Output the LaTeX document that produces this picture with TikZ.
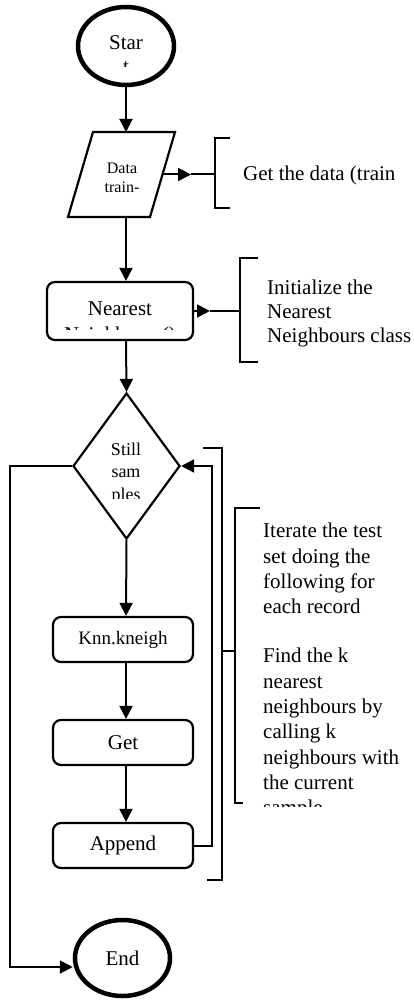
\documentclass[tikz,border=0pt]{standalone}
\usepackage{fontspec}
\setmainfont{Liberation Serif}
\usetikzlibrary{shapes.geometric,arrows.meta}
\begin{document}
\begin{tikzpicture}[x=1pt,y=-1pt,
  conn/.style={line width=2pt},
  arr/.style={line width=2pt,-{Triangle[length=13pt,width=13pt]}},
  term/.style={ellipse,draw,line width=4.5pt,inner sep=0pt},
  procbox/.style={draw,rounded corners=8pt,line width=2.2pt,inner sep=0pt},
  fbig/.style={font=\fontsize{21}{24}\selectfont},
  fmid/.style={font=\fontsize{19}{22}\selectfont},
  fdec/.style={font=\fontsize{18}{22}\selectfont},
  fsmall/.style={font=\fontsize{16}{19}\selectfont},
  txt/.style={inner sep=0pt,anchor=base}
]
\useasboundingbox (0,0) rectangle (414,1000);
\coordinate (axis) at (126,0);

% Start
\node[term, minimum width=96pt, minimum height=78pt] (start) at (126,46) {};
\begin{scope}
  \clip (82,20) rectangle (170,67);
  \node[fbig, txt] (startA) at (126,50) {Star};
  \node[fbig, txt] (startB) at (126,74) {t};
\end{scope}

% Data (parallelogram drawn around a named node)
\node[minimum width=82pt, minimum height=85pt, inner sep=0pt, outer sep=0pt] (data) at (121.5,174.5) {};
\draw[line width=2.2pt, line join=miter]
  ([xshift=12.5pt]data.north west) -- ([xshift=12.5pt]data.north east)
  -- ([xshift=-12.5pt]data.south east) -- ([xshift=-12.5pt]data.south west) -- cycle;
\node[fsmall, txt] (dataA) at (122,173.5) {Data};
\node[fsmall, txt] (dataB) at (122,192.5) {train-};
\draw[arr] (start.south) -- (axis |- data.north);

\coordinate (a1) at (191,174.5);
\coordinate (b1) at (215,174.5);
\draw[arr] (data.east) -- (a1);
\draw[conn] (a1) -- (b1);
\draw[conn] (230,138) -- (215,138) -- (215,208) -- (230,208);
\node[fbig, inner sep=0pt, anchor=base west] (t1) at (243,181) {Get the data (train};

% Nearest
\node[procbox, minimum width=146pt, minimum height=58pt] (near) at (120,311) {};
\begin{scope}
  \clip (50,285) rectangle (190,329.5);
  \node[fbig, txt] (nearA) at (120,315) {Nearest};
  \node[fbig, txt] (nearB) at (120,341) {Neighbours()};
\end{scope}
\draw[arr] (axis |- data.south) -- (axis |- near.north);

\coordinate (a2) at (210,311);
\coordinate (b2) at (240,311);
\draw[arr] (near.east) -- (a2);
\draw[conn] (a2) -- (b2);
\draw[conn] (258,258) -- (240,258) -- (240,362) -- (258,362);
\node[fbig, inner sep=0pt, anchor=north west, align=left] (t2) at (267,280)
  {Initialize the\\Nearest\\Neighbours class};

% Decision
\node[draw, diamond, line width=2.2pt, minimum width=107pt, minimum height=146pt,
      inner sep=0pt] (dec) at (126.5,466) {};
\begin{scope}
  \clip (90,430) rectangle (165,498);
  \node[fdec, txt] (decA) at (126,455) {Still};
  \node[fdec, txt] (decB) at (126,477) {sam};
  \node[fdec, txt] (decC) at (126,500) {ples};
\end{scope}
\draw[arr] (axis |- near.south) -- (dec.north);

% Loop body
\node[procbox, fmid, minimum width=140pt, minimum height=45pt] (knn) at (123,639.5) {Knn.kneigh};
\node[procbox, fbig, minimum width=140pt, minimum height=45pt] (get) at (123,742.5) {Get};
\node[procbox, fbig, minimum width=140pt, minimum height=45pt] (app) at (123,845.5) {Append};
\draw[arr] (dec.south) -- (axis |- knn.north);
\draw[arr] (axis |- knn.south) -- (axis |- get.north);
\draw[arr] (axis |- get.south) -- (axis |- app.north);
\draw[arr] (app.east) -- (212,845.5) -- (212,466) -- (dec.east);

% End
\node[term, fbig, minimum width=95pt, minimum height=76pt] (end) at (122.5,958) {End};
\draw[arr] (dec.west) -- (10,466) -- (10,967) -- ([yshift=-9pt]end.west);

% Loop brackets
\draw[conn] (203,448) -- (222,448) -- (222,880) -- (207,880);
\draw[conn] (222,651) -- (235,651);
\draw[conn] (260,508) -- (235,508) -- (235,803) -- (243,803);
\begin{scope}
  \clip (255,500) rectangle (414,806);
  \node[font=\fontsize{21}{25.3}\selectfont, inner sep=0pt, anchor=north west, align=left] (t3) at (263,523)
    {Iterate the test\\set doing the\\following for\\each record\\[24pt]Find the k\\nearest\\neighbours by\\calling k\\neighbours with\\the current\\sample};
\end{scope}
\end{tikzpicture}
\end{document}
